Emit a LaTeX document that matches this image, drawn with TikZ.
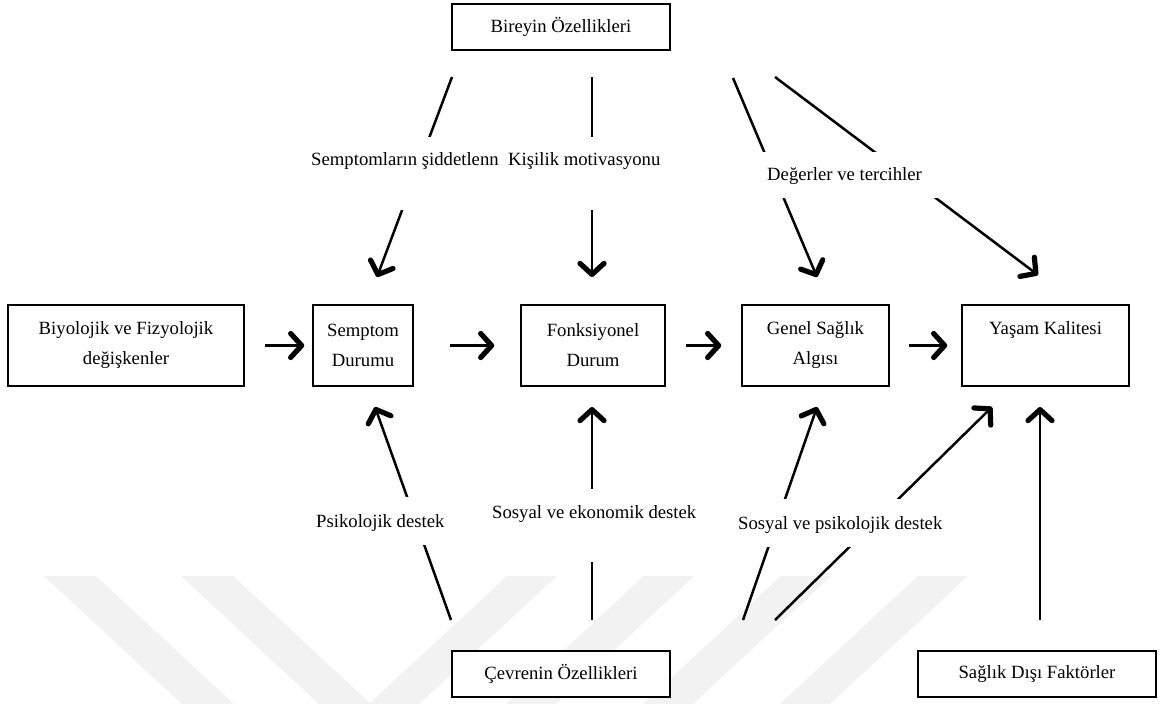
\documentclass[tikz,border=0pt]{standalone}
\usepackage{fontspec}
\setmainfont{Liberation Serif}
\usetikzlibrary{arrows.meta}
\tikzset{
  box/.style={draw, line width=1.5pt, fill=white, inner sep=0pt, align=center,
              font=\fontsize{18.7}{30}\selectfont},
  lbl/.style={font=\fontsize{18.7}{22}\selectfont, inner sep=0pt, anchor=base},
  chev/.tip={Straight Barb[length=11pt,width=24pt,line width=5.2pt,round]},
  conn/.style={line width=2.5pt, -chev},
  harrow/.style={line width=3.6pt, -chev},
  blank/.style={fill=white, draw=none},
  wm/.style={fill=black!5, draw=none}
}
\begin{document}
\begin{tikzpicture}[x=1pt,y=-1pt]
\useasboundingbox (0,0) rectangle (1164,704);
% watermark stripes
\fill[wm] (44,576) -- (96,576) -- (234,704) -- (182,704) -- cycle;
\fill[wm] (181,576) -- (233,576) -- (371,704) -- (319,704) -- cycle;
\fill[wm] (507,576) -- (557,576) -- (419,704) -- (369,704) -- cycle;
\fill[wm] (644,576) -- (694,576) -- (556,704) -- (506,704) -- cycle;
\fill[wm] (781,576) -- (831,576) -- (693,704) -- (643,704) -- cycle;
\fill[wm] (918,576) -- (968,576) -- (830,704) -- (780,704) -- cycle;

% boxes
\node[box, minimum width=218pt, minimum height=46pt] (bir) at (561,27) {Bireyin Özellikleri};
\node[box, minimum width=236pt, minimum height=81pt] (bio) at (126,345.5) {Biyolojik ve Fizyolojik\\değişkenler};
\node[box, minimum width=100pt, minimum height=81pt] (sem) at (363,345.5) {Semptom\\Durumu};
\node[box, minimum width=144pt, minimum height=81pt] (fon) at (593,345.5) {Fonksiyonel\\Durum};
\node[box, minimum width=147pt, minimum height=81pt] (gen) at (815.5,345.5) {Genel Sağlık\\Algısı};
\node[box, minimum width=167pt, minimum height=81pt] (yas) at (1045.5,345.5) {};
\node[lbl] (yast) at (1045.5,334) {Yaşam Kalitesi};
\node[box, minimum width=218pt, minimum height=46pt] (cev) at (561,674) {Çevrenin Özellikleri};
\node[box, minimum width=238pt, minimum height=46pt] (sdf) at (1037,674) {Sağlık Dışı Faktörler};

% connector end points
\coordinate (a1) at (452,77);  \coordinate (b1) at (377,277);
\coordinate (a2) at (592,77);  \coordinate (b2) at (592,277);
\coordinate (a3) at (733,78);  \coordinate (b3) at (817,277);
\coordinate (a4) at (775,77);  \coordinate (b4) at (1038,275);
\coordinate (c1) at (451,620); \coordinate (d1) at (375,407);
\coordinate (c2) at (592,620); \coordinate (d2) at (592,407);
\coordinate (c3) at (743,620); \coordinate (d3) at (817,407);
\coordinate (c4) at (775,620); \coordinate (d4) at (992,407);
\coordinate (c5) at (1040,620); \coordinate (d5) at (1040,407);

\draw[conn] (a1) -- (b1);
\draw[conn] (a2) -- (b2);
\draw[conn] (a3) -- (b3);
\draw[conn] (a4) -- (b4);
\draw[conn] (c1) -- (d1);
\draw[conn] (c2) -- (d2);
\draw[conn] (c3) -- (d3);
\draw[conn] (c4) -- (d4);
\draw[conn] (c5) -- (d5);

% horizontal arrows
\draw[harrow] ([xshift=20pt]bio.east) -- ([xshift=-8pt]sem.west);
\draw[harrow] ([xshift=36pt]sem.east) -- ([xshift=-26pt]fon.west);
\draw[harrow] ([xshift=20pt]fon.east) -- ([xshift=-20pt]gen.west);
\draw[harrow] ([xshift=19pt]gen.east) -- ([xshift=-14pt]yas.west);

% label backgrounds
\fill[blank] (305,137) rectangle (497,210);
\fill[blank] (503,137) rectangle (668,210);
\fill[blank] (755,152) rectangle (942,198);
\fill[blank] (310,497) rectangle (452,545);
\fill[blank] (488,489) rectangle (700,562);
\fill[blank] (730,499) rectangle (950,547);

% labels
\node[lbl, anchor=base west] (l1) at (311,165) {Semptomların şiddetlenn};
\node[lbl, anchor=base west] (l2) at (508,165) {Kişilik motivasyonu};
\node[lbl, anchor=base west] (l3) at (767,180) {Değerler ve tercihler};
\node[lbl, anchor=base west] (l4) at (316,527) {Psikolojik destek};
\node[lbl, anchor=base west] (l5) at (492,518) {Sosyal ve ekonomik destek};
\node[lbl, anchor=base west] (l6) at (738,529) {Sosyal ve psikolojik destek};
\end{tikzpicture}
\end{document}
